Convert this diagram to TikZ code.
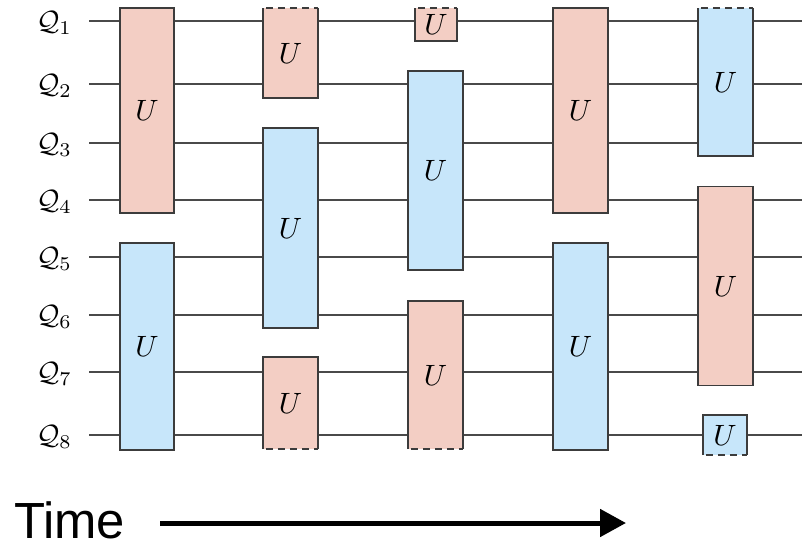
\documentclass[tikz,border=0pt]{standalone}
\usepackage{graphicx}
\usepackage{fontspec}
\newfontfamily\timefont{Liberation Sans}
\usetikzlibrary{arrows.meta}
\definecolor{gred}{HTML}{F3CEC4}
\definecolor{gblue}{HTML}{C7E6FA}
\definecolor{edge}{HTML}{3C3C3C}
\definecolor{wire}{HTML}{4A4A4A}
\newcommand{\gU}{\scalebox{2.95}{$U$}}
\tikzset{
  wireline/.style={draw=wire, line width=1.2bp},
  gatebody/.style={draw=none, inner sep=0pt},
  redgate/.style={gatebody, fill=gred},
  bluegate/.style={gatebody, fill=gblue},
  gateedge/.style={draw=edge, line width=1.5bp},
  gatedash/.style={draw=edge, line width=1.5bp, dash pattern=on 7bp off 5bp, dash phase=-3bp},
  qlabel/.style={anchor=east, inner sep=0pt},
}
\newcommand{\solidbox}[1]{\draw[gateedge] (#1.north west) rectangle (#1.south east);}
\newcommand{\topdashbox}[1]{%
  \draw[gateedge] (#1.north east) -- (#1.south east) -- (#1.south west) -- (#1.north west);
  \draw[gatedash] (#1.north west) -- (#1.north east);}
\newcommand{\botdashbox}[1]{%
  \draw[gateedge] (#1.south west) -- (#1.north west) -- (#1.north east) -- (#1.south east);
  \draw[gatedash] (#1.south west) -- (#1.south east);}
\begin{document}
\begin{tikzpicture}[x=1bp,y=-1bp]
\useasboundingbox (0,0) rectangle (802,547);
% wires
\foreach \i/\y in {1/21,2/84,3/143,4/200,5/257,6/315,7/372,8/435}{
  \coordinate (w\i s) at (89,\y);
  \coordinate (w\i e) at (802,\y);
  \draw[wireline] (w\i s) -- (w\i e);
  \node[qlabel] (q\i) at (72,\y+2) {\scalebox{2.8}{$\mathcal{Q}_{\i}$}};
}
% column 1
\node[redgate, minimum width=54bp, minimum height=205bp] (a1) at (147,110.5) {\gU};
\solidbox{a1}
\node[bluegate, minimum width=54bp, minimum height=207bp] (a2) at (147,346.5) {\gU};
\solidbox{a2}
% column 2
\node[redgate, minimum width=55bp, minimum height=90bp] (b1) at (290.5,53) {\gU};
\topdashbox{b1}
\node[bluegate, minimum width=55bp, minimum height=200bp] (b2) at (290.5,228) {\gU};
\solidbox{b2}
\node[redgate, minimum width=55bp, minimum height=92bp] (b3) at (290.5,403) {\gU};
\botdashbox{b3}
% column 3
\node[redgate, minimum width=42bp, minimum height=33bp] (c1) at (436,24.5) {\gU};
\topdashbox{c1}
\node[bluegate, minimum width=55bp, minimum height=199bp] (c2) at (435.5,170.5) {\gU};
\solidbox{c2}
\node[redgate, minimum width=55bp, minimum height=148bp] (c3) at (435.5,375) {\gU};
\botdashbox{c3}
% column 4
\node[redgate, minimum width=55bp, minimum height=205bp] (d1) at (580.5,110.5) {\gU};
\solidbox{d1}
\node[bluegate, minimum width=55bp, minimum height=207bp] (d2) at (580.5,346.5) {\gU};
\solidbox{d2}
% column 5
\node[bluegate, minimum width=55bp, minimum height=148bp] (e1) at (725.5,82) {\gU};
\topdashbox{e1}
\node[redgate, minimum width=55bp, minimum height=199bp] (e2) at (725.5,286) {\gU};
\solidbox{e2}
\node[bluegate, minimum width=44bp, minimum height=40bp] (e3) at (725,435) {\gU};
\botdashbox{e3}
% time arrow
\node[anchor=base west, inner sep=0pt, font=\timefont\fontsize{51}{58}\selectfont] (time) at (14,538) {Time};
\coordinate (ta) at (160,523);
\coordinate (tb) at (626,523);
\draw[line width=5bp, -{Triangle[length=26bp,width=27bp]}] (ta) -- (tb);
\end{tikzpicture}
\end{document}
